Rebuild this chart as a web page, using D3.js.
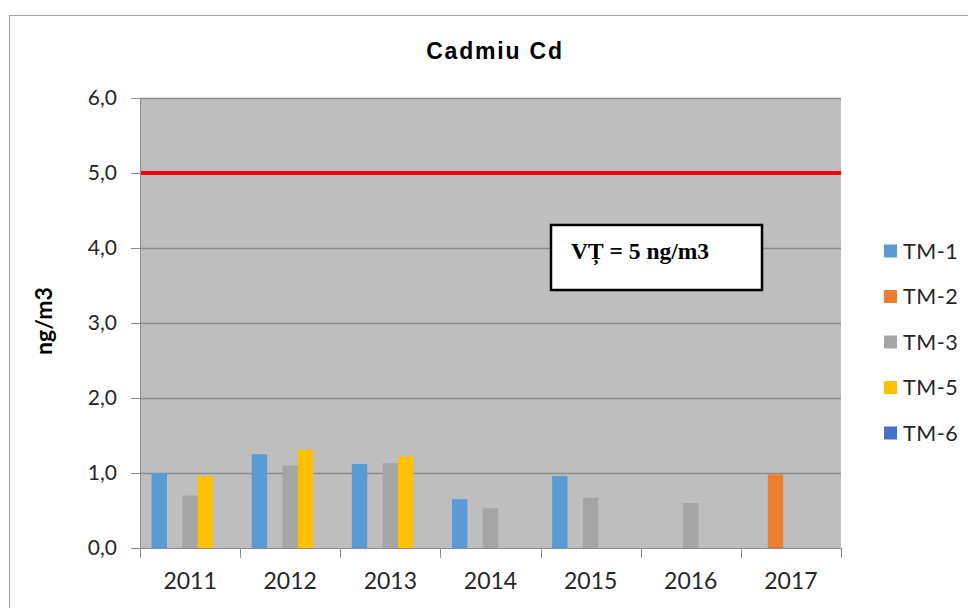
<!DOCTYPE html>
<html>
<head>
<meta charset="utf-8">
<script src="https://cdn.jsdelivr.net/npm/d3@7"></script>
<style>
  body { margin: 0; background: #fff; }
  svg { display: block; }
</style>
</head>
<body>
<div id="chart"></div>
<script>
// data
const years = ["2011", "2012", "2013", "2014", "2015", "2016", "2017"];
const series = ["TM-1", "TM-2", "TM-3", "TM-5", "TM-6"];
const colors = ["#5b9bd5", "#ed7d31", "#a5a5a5", "#ffc000", "#4472c4"];
const tm1 = [1.00, 1.25, 1.12, 0.65, 0.96, null, null];
const tm2 = [null, null, null, null, null, null, 0.98];
const tm3 = [0.70, 1.10, 1.13, 0.53, 0.67, 0.60, null];
const tm5 = [0.96, 1.31, 1.22, null, null, null, null];
const tm6 = [null, null, null, null, null, null, null];
const limitValue = 5;
const limitLabel = "VȚ = 5 ng/m3";
const yTicks = [0, 1, 2, 3, 4, 5, 6];

const values = [tm1, tm2, tm3, tm5, tm6];

const W = 968, H = 608;
const plot = {left: 140, top: 98, right: 841, bottom: 548};
const sans = "Lato, 'Open Sans', sans-serif";

const svg = d3.select("#chart").append("svg")
  .attr("width", W).attr("height", H);

// outer frame (only top and left edges show in the picture)
svg.append("rect")
  .attr("x", 9.5).attr("y", 15.5)
  .attr("width", W).attr("height", H)
  .attr("fill", "#fff").attr("stroke", "#a0a0a0").attr("stroke-width", 1);

const x = d3.scaleBand().domain(years).range([plot.left, plot.right]).padding(0);
const xs = d3.scaleBand().domain(series).range([0, x.bandwidth()])
  .paddingInner(0).paddingOuter(0.75);
const y = d3.scaleLinear().domain([0, 6]).range([plot.bottom, plot.top]);

// plot background
svg.append("rect")
  .attr("x", plot.left).attr("y", plot.top)
  .attr("width", plot.right - plot.left).attr("height", plot.bottom - plot.top)
  .attr("fill", "#bebebe");

// gridlines
svg.append("g").selectAll("line")
  .data(yTicks.slice(1))
  .join("line")
  .attr("x1", plot.left).attr("x2", plot.right)
  .attr("y1", d => Math.round(y(d)) + 0.5).attr("y2", d => Math.round(y(d)) + 0.5)
  .attr("stroke", "#8c8c8c").attr("stroke-width", 1.5);

// bars
series.forEach((s, i) => {
  const rows = years.map((yr, j) => ({year: yr, v: values[i][j]})).filter(d => d.v != null);
  svg.append("g").selectAll("rect")
    .data(rows)
    .join("rect")
    .attr("x", d => x(d.year) + xs(s))
    .attr("y", d => y(d.v))
    .attr("width", xs.bandwidth())
    .attr("height", d => y(0) - y(d.v))
    .attr("fill", colors[i]);
});

// limit line
svg.append("line")
  .attr("x1", plot.left).attr("x2", plot.right)
  .attr("y1", y(limitValue)).attr("y2", y(limitValue))
  .attr("stroke", "#ff0000").attr("stroke-width", 4);

// y axis
const yAxis = svg.append("g")
  .attr("transform", `translate(${plot.left},0)`)
  .call(d3.axisLeft(y).tickValues(yTicks).tickSize(9).tickPadding(14)
    .tickFormat(d => d3.format(".1f")(d).replace(".", ",")));
yAxis.select(".domain").attr("stroke", "#8c8c8c").attr("d", `M0.5,${plot.top}V${plot.bottom}`);
yAxis.selectAll(".tick line").attr("stroke", "#8c8c8c");
yAxis.selectAll("text")
  .attr("font-family", sans)
  .attr("font-size", 21).attr("fill", "#262626");

// x axis
const xAxis = svg.append("g")
  .attr("transform", `translate(0,${plot.bottom})`)
  .call(d3.axisBottom(x).tickSize(0).tickPadding(25));
xAxis.select(".domain").attr("stroke", "#8c8c8c").attr("d", `M${plot.left},0.5H${plot.right}`);
xAxis.selectAll("text")
  .attr("font-family", sans)
  .attr("font-size", 23).attr("fill", "#262626");
xAxis.append("g").selectAll("line")
  .data(years.map(d => x(d)).concat([plot.right]))
  .join("line")
  .attr("x1", d => Math.round(d) + 0.5).attr("x2", d => Math.round(d) + 0.5)
  .attr("y1", 0).attr("y2", 10)
  .attr("stroke", "#8c8c8c");

// title
svg.append("text")
  .attr("x", 495).attr("y", 59)
  .attr("text-anchor", "middle")
  .attr("font-family", "'Liberation Sans', Arial, sans-serif")
  .attr("font-weight", "bold").attr("font-size", 23)
  .attr("letter-spacing", 1.8).attr("fill", "#000")
  .text("Cadmiu Cd");

// y axis title
svg.append("text")
  .attr("transform", "translate(52,321) rotate(-90)")
  .attr("text-anchor", "middle")
  .attr("font-family", sans)
  .attr("font-weight", "bold").attr("font-size", 23).attr("fill", "#000")
  .text("ng/m3");

// limit text box
svg.append("rect")
  .attr("x", 551).attr("y", 225)
  .attr("width", 211).attr("height", 65)
  .attr("fill", "#fff").attr("stroke", "#000").attr("stroke-width", 2.5);
svg.append("text")
  .attr("x", 571).attr("y", 259)
  .attr("font-family", "'Liberation Serif', 'Times New Roman', serif")
  .attr("font-weight", "bold").attr("font-size", 23.5).attr("fill", "#000")
  .text(limitLabel);

// legend
const legend = svg.append("g").selectAll("g")
  .data(series)
  .join("g")
  .attr("transform", (d, i) => `translate(884,${251 + i * 45.5})`);
legend.append("rect")
  .attr("x", 0).attr("y", -6.5)
  .attr("width", 13).attr("height", 13)
  .attr("fill", (d, i) => colors[i]);
legend.append("text")
  .attr("x", 19).attr("y", 0).attr("dy", "0.36em")
  .attr("font-family", sans)
  .attr("font-size", 21.5).attr("letter-spacing", 0.5).attr("fill", "#262626")
  .text(d => d);
</script>
</body>
</html>
